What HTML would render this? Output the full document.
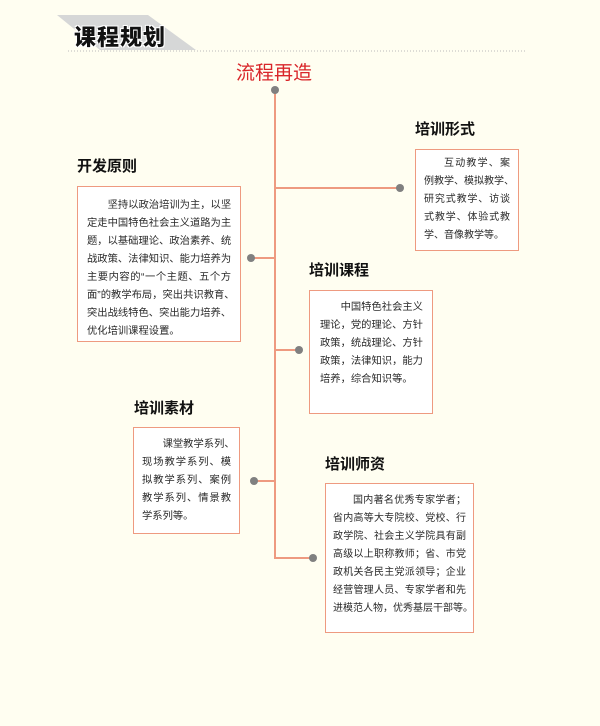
<!DOCTYPE html>
<html><head><meta charset="utf-8">
<style>
body{margin:0;width:600px;height:726px;background:#fffef1;position:relative;overflow:hidden;font-family:"Liberation Sans","Noto Sans CJK SC",sans-serif}
.a{position:absolute}
.t{position:absolute;font-weight:bold;font-size:15px;color:#111;line-height:18px;white-space:nowrap}
.b{position:absolute;background:#fff;border:1.5px solid #ee9a80;box-sizing:border-box;font-size:10.3px;color:#2a2a2a;line-height:18px;overflow:hidden}
.b div{text-align:justify;text-align-last:justify;white-space:nowrap;height:18px}
.b div.l{text-align-last:left}
.b div.i{padding-left:2em}
.h{position:absolute;height:2px;background:#ee9a80}
.v{position:absolute;width:2px;background:#ee9a80}
.d{position:absolute;width:8px;height:8px;border-radius:50%;background:#808080}
</style></head><body>
<svg class="a" style="left:0;top:0" width="600" height="60">
<polygon points="57,15 148,15 196,50 100,50" fill="#d6d7d7"/>
<line x1="68" y1="51" x2="526" y2="51" stroke="#bbb" stroke-width="1" stroke-dasharray="1,2"/>
</svg>
<div class="a" style="left:74px;top:20px;font-size:22px;font-weight:900;color:#111;letter-spacing:1px;text-shadow:-1px -1px 0 #fff,1px -1px 0 #fff,-1px 1px 0 #fff,1px 1px 0 #fff;white-space:nowrap">课程规划</div>
<div class="a" style="left:236px;top:58px;font-size:19px;color:#d9262a;white-space:nowrap">流程再造</div>

<div class="v" style="left:274px;top:92px;height:467px"></div>
<div class="d" style="left:271px;top:86px"></div>
<div class="h" style="left:275px;top:187px;width:125px"></div><div class="d" style="left:396px;top:184px"></div>
<div class="h" style="left:252px;top:257px;width:23px"></div><div class="d" style="left:247px;top:254px"></div>
<div class="h" style="left:275px;top:349px;width:24px"></div><div class="d" style="left:295px;top:346px"></div>
<div class="h" style="left:254px;top:480px;width:21px"></div><div class="d" style="left:250px;top:477px"></div>
<div class="h" style="left:275px;top:557px;width:38px"></div><div class="d" style="left:309px;top:554px"></div>

<div class="t" style="left:77px;top:158px">开发原则</div>
<div class="b" style="left:77px;top:186px;width:164px;height:156px;padding:10px 9px 0 9px">
<div class="i">坚持以政治培训为主，以坚</div>
<div>定走中国特色社会主义道路为主</div>
<div>题，以基础理论、政治素养、统</div>
<div>战政策、法律知识、能力培养为</div>
<div>主要内容的“一个主题、五个方</div>
<div>面”的教学布局，突出共识教育、</div>
<div>突出战线特色、突出能力培养、</div>
<div class="l">优化培训课程设置。</div>
</div>

<div class="t" style="left:415px;top:121px">培训形式</div>
<div class="b" style="left:415px;top:149px;width:104px;height:102px;padding:5px 8px 0 8px;font-size:10px">
<div class="i">互动教学、案</div>
<div>例教学、模拟教学、</div>
<div>研究式教学、访谈</div>
<div>式教学、体验式教</div>
<div class="l">学、音像教学等。</div>
</div>

<div class="t" style="left:309px;top:262px">培训课程</div>
<div class="b" style="left:309px;top:290px;width:124px;height:124px;padding:8px 10px 0 10px">
<div class="i">中国特色社会主义</div>
<div>理论，党的理论、方针</div>
<div>政策，统战理论、方针</div>
<div>政策，法律知识，能力</div>
<div class="l">培养，综合知识等。</div>
</div>

<div class="t" style="left:134px;top:400px">培训素材</div>
<div class="b" style="left:133px;top:427px;width:107px;height:107px;padding:8px 8px 0 8px">
<div class="i">课堂教学系列、</div>
<div>现场教学系列、模</div>
<div>拟教学系列、案例</div>
<div>教学系列、情景教</div>
<div class="l">学系列等。</div>
</div>

<div class="t" style="left:325px;top:456px">培训师资</div>
<div class="b" style="left:325px;top:483px;width:149px;height:150px;padding:8px 7px 0 7px;font-size:10px">
<div class="i">国内著名优秀专家学者；</div>
<div>省内高等大专院校、党校、行</div>
<div>政学院、社会主义学院具有副</div>
<div>高级以上职称教师；省、市党</div>
<div>政机关各民主党派领导；企业</div>
<div>经营管理人员、专家学者和先</div>
<div>进模范人物，优秀基层干部等。</div>
</div>
</body></html>
